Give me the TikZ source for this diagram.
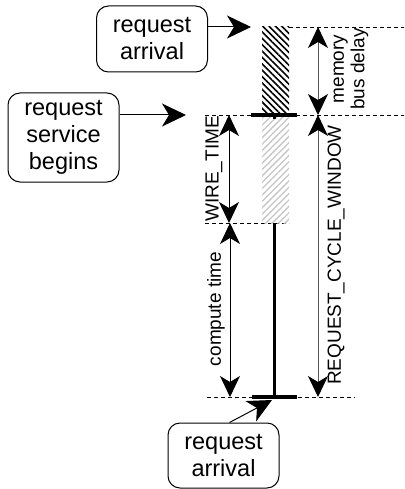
\documentclass[tikz,border=0pt]{standalone}
\usepackage{fontspec}
\setmainfont{Liberation Sans}
\usetikzlibrary{arrows.meta,positioning,patterns.meta}

\begin{document}
\begin{tikzpicture}[
  x=1pt, y=-1pt,
  reqbox/.style={draw, line width=1pt, rounded corners=12pt, minimum width=111pt, align=center, inner sep=0pt, font=\fontsize{23.5}{27}\selectfont},
  pointer/.style={-{Stealth[length=24pt,width=23pt,inset=7pt]}, line width=1pt},
  dimarrow/.style={{Stealth[length=21pt,width=20pt,inset=6pt,color=black]}-{Stealth[length=21pt,width=20pt,inset=6pt,color=black]}, line width=1pt},
  guide/.style={dash pattern=on 4pt off 3pt, line width=0.9pt},
  bar/.style={line width=4pt},
  dimlabel/.style={rotate=90, inner sep=0pt, align=center, font=\fontsize{19}{20.5}\selectfont}
]
\useasboundingbox (0,0) rectangle (404,489);

% boxes
\node[reqbox, minimum height=66pt] (arrtop) at (152,39) {request\\arrival};
\node[reqbox, minimum height=89pt] (srvbeg) at (63.5,137.5) {request\\service\\begins};
\node[reqbox, minimum height=65pt] (arrbot) at (223.5,455.5) {request\\arrival};

% guides
\coordinate (tA) at (251,27);
\coordinate (sB) at (186,115);
\coordinate (bA) at (272,400);
\draw[guide] (289,27) -- (404,27);
\draw[guide] (205,115) -- (404,115);
\draw[guide] (205,223) -- (289,223);
\draw[guide] (207,397) -- (355,397);

% request timeline
\fill[pattern={Lines[angle=-45,distance=4.5pt,line width=1.6pt]}, pattern color=black] (262,27) rectangle (289,114);
\fill[pattern={Lines[angle=45,distance=4.5pt,line width=1.3pt]}, pattern color=gray!45] (262,116) rectangle (289,223);
\draw[bar] (251,115) -- (297,115);
\fill (272.5,115) rectangle (275.5,119);
\draw[line width=3pt] (274,223) -- (274,397);
\draw[bar] (252,397) -- (297,397);

% pointers
\draw[pointer] (arrtop.east |- tA) -- (tA);
\draw[pointer] (srvbeg.east |- sB) -- (sB);
\draw[pointer] ([xshift=6pt]arrbot.north) -- (bA);

% dimensions
\draw[dimarrow, black!65] (318,27) -- (318,115);
\draw[dimarrow, black!65] (318,115) -- (318,397);
\draw[dimarrow] (229,115) -- (229,223);
\draw[dimarrow] (230,223) -- (230,397);
\node[dimlabel] (mbd) at (351,69) {memory\\bus delay};
\node[dimlabel] (rcw) at (336,255) {REQUEST\_CYCLE\_WINDOW};
\node[dimlabel] (wt) at (214,169) {WIRE\_TIME};
\node[dimlabel] (ct) at (216,309) {compute time};
\end{tikzpicture}
\end{document}
